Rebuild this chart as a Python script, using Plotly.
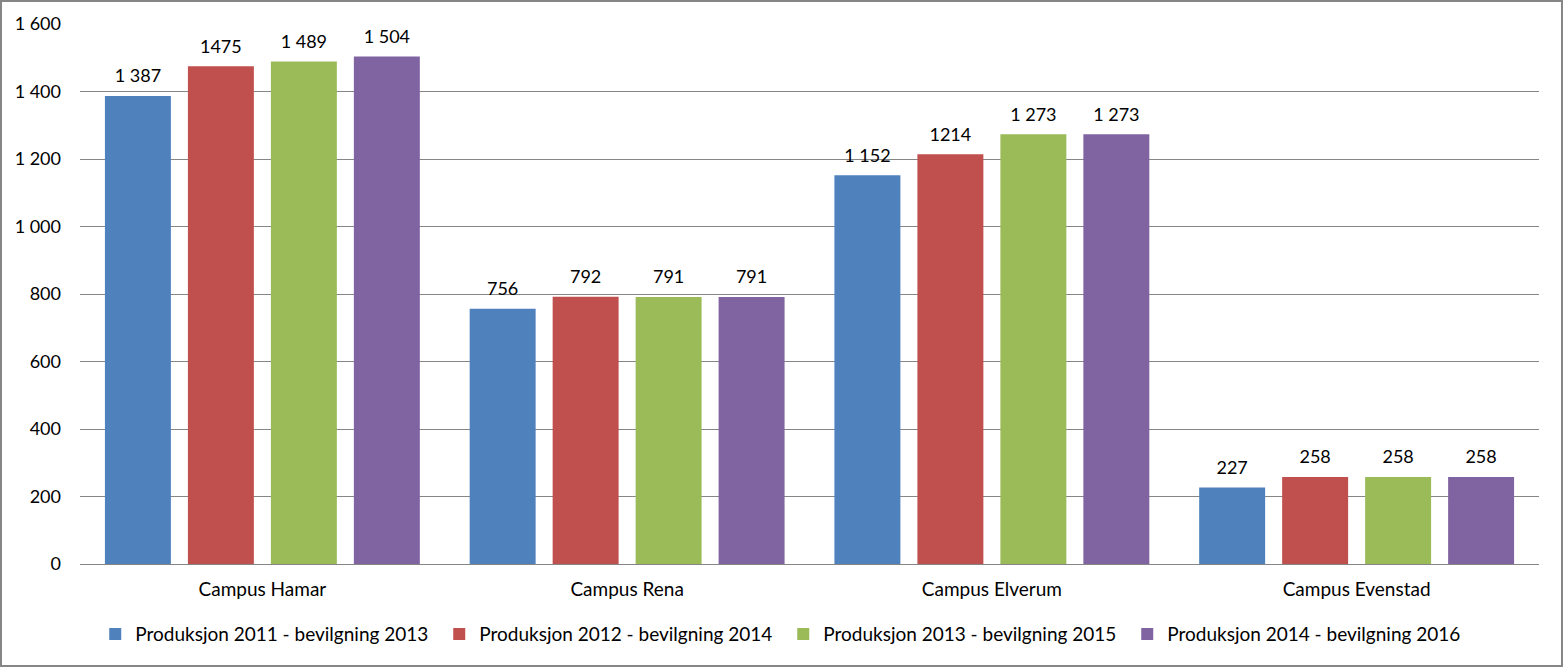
import plotly.graph_objects as go

categories = ["Campus Hamar", "Campus Rena", "Campus Elverum", "Campus Evenstad"]
series_names = [
    "Produksjon 2011 - bevilgning 2013",
    "Produksjon 2012 - bevilgning 2014",
    "Produksjon 2013 - bevilgning 2015",
    "Produksjon 2014 - bevilgning 2016",
]
values_2011 = [1387, 756, 1152, 227]
values_2012 = [1475, 792, 1214, 258]
values_2013 = [1489, 791, 1273, 258]
values_2014 = [1504, 791, 1273, 258]
labels_2011 = ["1 387", "756", "1 152", "227"]
labels_2012 = ["1475", "792", "1214", "258"]
labels_2013 = ["1 489", "791", "1 273", "258"]
labels_2014 = ["1 504", "791", "1 273", "258"]
colors = ["#4F81BD", "#C0504D", "#9BBB59", "#8064A2"]
ytick_vals = [0, 200, 400, 600, 800, 1000, 1200, 1400, 1600]
ytick_text = ["0", "200", "400", "600", "800", "1 000", "1 200", "1 400", "1 600"]

W, H = 1563, 667
ML, MR, MT, MB = 80, 24, 24, 103
FONT = "Lato"
FS_NUM = 18
FS_TXT = 19

all_values = [values_2011, values_2012, values_2013, values_2014]
all_labels = [labels_2011, labels_2012, labels_2013, labels_2014]

fig = go.Figure()
for i, (name, vals, col) in enumerate(zip(series_names, all_values, colors)):
    fig.add_trace(go.Bar(
        x=categories, y=vals, name=name, marker_color=col,
        marker_line_width=0, offsetgroup=str(i),
    ))
for i, (vals, labs) in enumerate(zip(all_values, all_labels)):
    fig.add_trace(go.Scatter(
        x=categories, y=vals, text=labs, mode="markers+text",
        textposition="top center", offsetgroup=str(i),
        marker=dict(size=13, color="rgba(0,0,0,0)"),
        textfont=dict(family=FONT, size=FS_NUM, color="#000000"),
        showlegend=False, hoverinfo="skip", cliponaxis=False,
    ))

pw = W - ML - MR
ph = H - MT - MB
fig.add_shape(type="rect", xref="paper", yref="paper",
              x0=(1 - ML) / pw, x1=(W - 1 - ML) / pw,
              y0=-(H - 1 - MT - ph) / ph, y1=(ph + MT - 1) / ph,
              line=dict(color="#868686", width=2), layer="below")

fig.update_layout(
    width=W, height=H,
    margin=dict(l=ML, r=MR, t=MT, b=MB, autoexpand=False),
    paper_bgcolor="white", plot_bgcolor="white",
    barmode="group", bargap=0.09, bargroupgap=0.205,
    scattermode="group", scattergap=0.09,
    font=dict(family=FONT, size=FS_TXT, color="#000000"),
    showlegend=True,
    legend=dict(orientation="h", x=0.482, xanchor="center", y=-0.13, yanchor="middle",
                font=dict(family=FONT, size=FS_TXT), entrywidth=299, itemwidth=30,
                traceorder="normal"),
    xaxis=dict(showline=True, linecolor="#868686", linewidth=1, ticks="",
               tickfont=dict(family=FONT, size=FS_TXT), showgrid=False,
               automargin=False, ticklabelstandoff=8),
    yaxis=dict(range=[0, 1600], tickvals=ytick_vals, ticktext=ytick_text,
               showgrid=True, gridcolor="#868686", gridwidth=1, zeroline=False,
               showline=False, ticks="", ticklabelstandoff=18, automargin=False,
               tickfont=dict(family=FONT, size=FS_NUM)),
)

fig.write_html("out.html", config={"displayModeBar": False},
               post_script="document.body.style.margin='0';document.body.style.overflow='hidden';")
